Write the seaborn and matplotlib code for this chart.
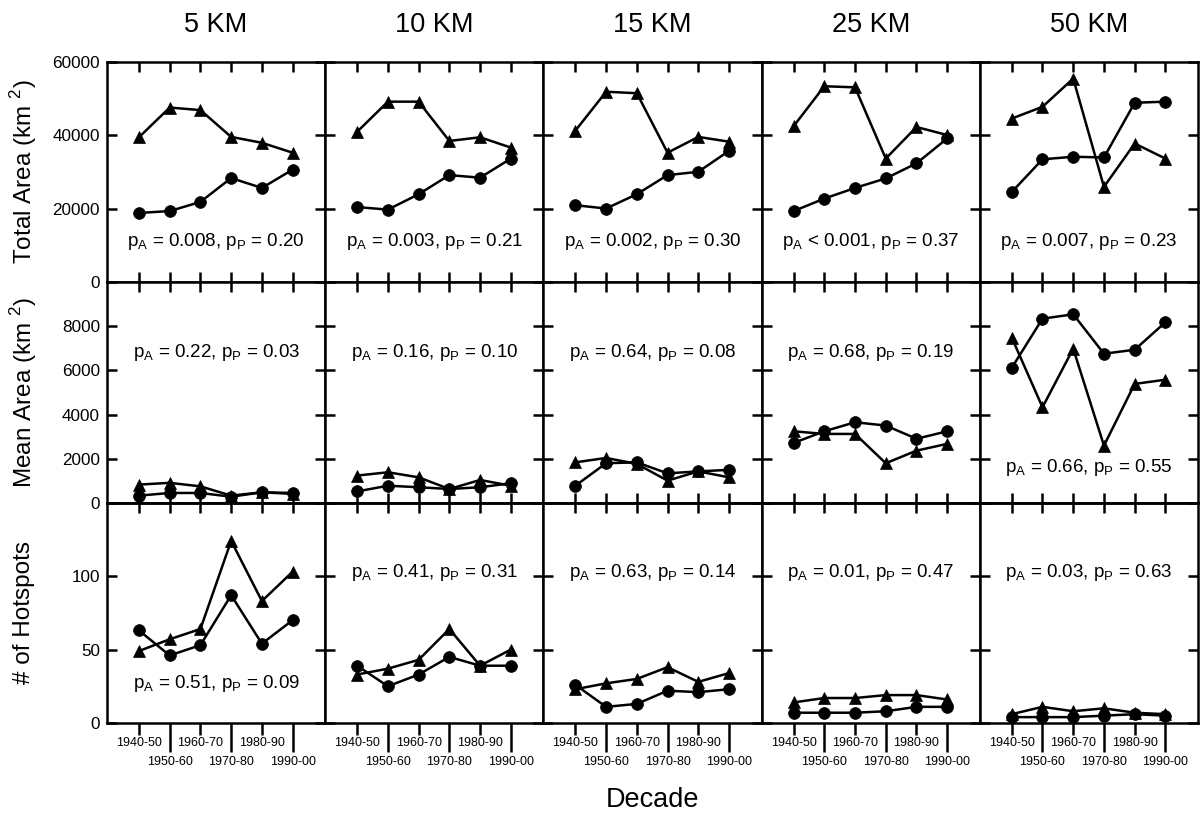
import matplotlib
matplotlib.use("Agg")
import matplotlib.pyplot as plt
import seaborn as sns
import pandas as pd
import numpy as np


# ---------------------------------------------------------------------------
#               data
# ---------------------------------------------------------------------------
decades = ['1940-50', '1950-60', '1960-70', '1970-80', '1980-90', '1990-00']
buffers = ['5 KM', '10 KM', '15 KM', '25 KM', '50 KM']

# total area (km2), one list per buffer
total_tri = [[39500, 47600, 46900, 39600, 38000, 35300],
             [41000, 49200, 49200, 38500, 39500, 36700],
             [41300, 51900, 51500, 35300, 39600, 38300],
             [42500, 53400, 53100, 33700, 42300, 40100],
             [44600, 47800, 55500, 26000, 37800, 33700]]
total_cir = [[18900, 19400, 21900, 28400, 25700, 30700],
             [20500, 19800, 24000, 29200, 28500, 33700],
             [21000, 20100, 24000, 29200, 30100, 35800],
             [19400, 22800, 25700, 28300, 32400, 39200],
             [24600, 33500, 34200, 34000, 48900, 49200]]

# mean area (km2)
mean_tri = [[820, 900, 740, 320, 470, 400],
            [1230, 1380, 1150, 620, 1030, 770],
            [1830, 2030, 1760, 1000, 1420, 1150],
            [3240, 3120, 3120, 1790, 2360, 2670],
            [7490, 4330, 6990, 2590, 5390, 5580]]
mean_cir = [[320, 440, 440, 270, 470, 440],
            [510, 770, 700, 620, 700, 880],
            [770, 1790, 1830, 1330, 1420, 1490],
            [2710, 3240, 3650, 3500, 2900, 3240],
            [6120, 8350, 8550, 6760, 6940, 8190]]

# number of hotspots
hot_tri = [[49, 57, 64, 124, 83, 103],
           [33, 37, 43, 64, 39, 50],
           [23, 27, 30, 38, 28, 34],
           [14, 17, 17, 19, 19, 16],
           [6, 11, 8, 10, 7, 6]]
hot_cir = [[63, 46, 53, 87, 54, 70],
           [39, 25, 33, 45, 39, 39],
           [26, 11, 13, 22, 21, 23],
           [7, 7, 7, 8, 11, 11],
           [4, 4, 4, 5, 6, 5]]

# p-values (pA, pP) per row and buffer
p_total = [('= 0.008', '0.20'), ('= 0.003', '0.21'), ('= 0.002', '0.30'),
           ('< 0.001', '0.37'), ('= 0.007', '0.23')]
p_mean = [('= 0.22', '0.03'), ('= 0.16', '0.10'), ('= 0.64', '0.08'),
          ('= 0.68', '0.19'), ('= 0.66', '0.55')]
p_hot = [('= 0.51', '0.09'), ('= 0.41', '0.31'), ('= 0.63', '0.14'),
         ('= 0.01', '0.47'), ('= 0.03', '0.63')]

row_labels = ['Total Area (km $^\\mathregular{2}$)',
              'Mean Area (km $^\\mathregular{2}$)',
              '# of Hotspots']
row_ylim = [60000, 10000, 150]
row_yticks = [[0, 20000, 40000, 60000],
              [0, 2000, 4000, 6000, 8000, 10000],
              [0, 50, 100, 150]]
# where the p text sits inside each panel (axes fraction)
p_ypos = [[0.185] * 5,
          [0.683, 0.683, 0.683, 0.683, 0.16],
          [0.18, 0.685, 0.685, 0.685, 0.685]]


# ---------------------------------------------------------------------------
#               figure
# ---------------------------------------------------------------------------
sns.set_theme(style="ticks", rc={
    "text.color": "black",
    "axes.labelcolor": "black",
    "axes.edgecolor": "black",
    "xtick.color": "black",
    "ytick.color": "black"})
plt.rcParams['font.family'] = ['Liberation Sans', 'DejaVu Sans']
plt.rcParams['mathtext.fontset'] = 'custom'
plt.rcParams['mathtext.rm'] = 'Liberation Sans'
plt.rcParams['axes.linewidth'] = 1.8

fig, axes = plt.subplots(3, 5, figsize=(12.02, 8.13), dpi=100)
fig.subplots_adjust(left=107 / 1202, right=1198 / 1202,
                    top=1 - 62 / 813, bottom=1 - 723 / 813,
                    wspace=0, hspace=0)

rows = [(total_tri, total_cir, p_total),
        (mean_tri, mean_cir, p_mean),
        (hot_tri, hot_cir, p_hot)]
x = np.arange(len(decades))

for r, (tri, cir, pv) in enumerate(rows):
    for c in range(len(buffers)):
        ax = axes[r, c]
        df = pd.DataFrame({'decade': x, 'tri': tri[c], 'cir': cir[c]})
        sns.lineplot(data=df, x='decade', y='tri', ax=ax, color='black',
                     linewidth=1.8, marker='^', markersize=9,
                     markeredgecolor='black', markeredgewidth=0.5)
        sns.lineplot(data=df, x='decade', y='cir', ax=ax, color='black',
                     linewidth=1.8, marker='o', markersize=8.5,
                     markeredgecolor='black', markeredgewidth=0.5)

        ax.set_xlim(-1.04, 6.06)
        ax.set_ylim(0, row_ylim[r])
        ax.set_yticks(row_yticks[r])
        ax.set_xlabel('')
        ax.set_ylabel('')
        ax.tick_params(axis='y', which='both', direction='in', left=True,
                       right=True, length=7, width=1.8, labelsize=12.3,
                       pad=5, labelleft=(c == 0))
        if c == 0:
            labs = [str(v) for v in row_yticks[r]]
            if r > 0:
                labs[-1] = ''
            ax.set_yticklabels(labs)

        if r < 2:
            ax.set_xticks(x)
            ax.tick_params(axis='x', which='both', direction='in', top=True,
                           bottom=True, length=7, width=1.8,
                           labelbottom=False)
        else:
            # alternating long / short outward ticks with two label rows
            ax.set_xticks(x[0::2], labels=decades[0::2])
            ax.set_xticks(x[1::2], labels=decades[1::2], minor=True)
            ax.tick_params(axis='x', which='major', direction='out',
                           length=8.6, width=1.8, labelsize=9, pad=1.5,
                           top=False)
            ax.tick_params(axis='x', which='minor', direction='out',
                           length=21, width=1.8, labelsize=9, pad=2.5,
                           top=False)
            sec = ax.secondary_xaxis('top')
            sec.set_xticks(x)
            sec.tick_params(axis='x', direction='in', length=7, width=1.8,
                            labeltop=False)
            sec.spines['top'].set_linewidth(1.8)

        for s in ax.spines.values():
            s.set_linewidth(1.8)
            s.set_color('black')

        pa, pp = pv[c]
        ax.text(0.5, p_ypos[r][c],
                'p$_\\mathregular{A}$ ' + pa + ', p$_\\mathregular{P}$ = ' + pp,
                transform=ax.transAxes, ha='center', va='center',
                fontsize=13.5)

        if r == 0:
            ax.text(0.5, 1.168, buffers[c], transform=ax.transAxes,
                    ha='center', va='center', fontsize=19.5)

    fig.text(24 / 1202, 1 - (172 + 220 * r) / 813, row_labels[r],
             rotation=90, ha='center', va='center', fontsize=17.5)

fig.text(652 / 1202, 1 - 800 / 813, 'Decade', ha='center', va='center',
         fontsize=19.5)

plt.savefig('out.png', dpi=100, facecolor='white')
